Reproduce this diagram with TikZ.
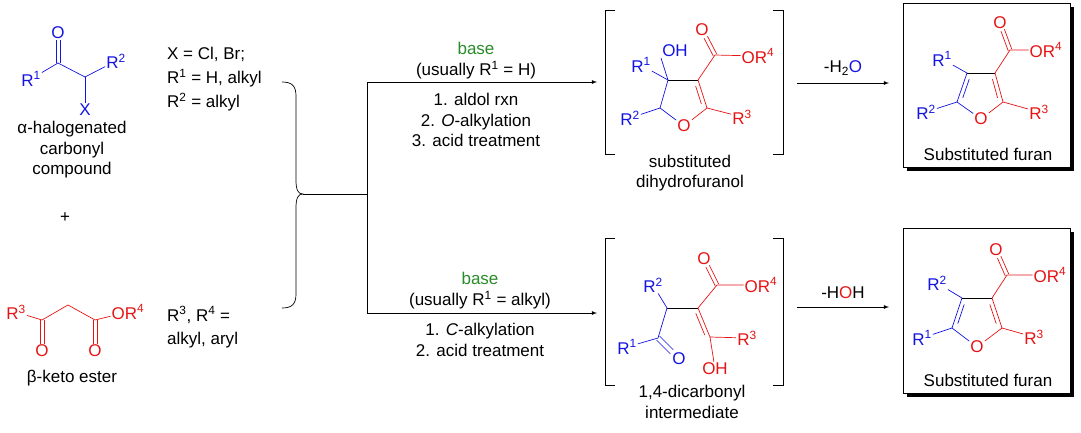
\documentclass[tikz,border=0pt]{standalone}
\usepackage{fontspec}
\setmainfont{Liberation Sans}
\usetikzlibrary{calc}
\definecolor{chemblue}{RGB}{20,20,225}
\definecolor{chemred}{RGB}{230,20,20}
\definecolor{basegreen}{RGB}{40,140,40}
\newcommand{\rs}[1]{\textsuperscript{#1}}
\tikzset{
  atom/.style={inner sep=1pt, font=\fontsize{17}{19}\selectfont},
  txt/.style={inner sep=0pt, font=\fontsize{17}{20.5}\selectfont},
  bond/.style={line width=0.7pt},
  rxn/.style={-latex, line width=0.8pt},
  dbl/.style={transform canvas={shift={#1}}}
}
\begin{document}
\begin{tikzpicture}[x=1pt,y=-1pt]
\useasboundingbox (0,0) rectangle (1081,432);
% alpha-halogenated carbonyl compound
\coordinate (a1) at (58,63);
\coordinate (a2) at (85,77);
\node[atom,text=chemblue] (aO) at (58,33) {O};
\node[atom,text=chemblue] (aR1) at (31,79) {R\rs{1}};
\node[atom,text=chemblue] (aR2) at (116,61) {R\rs{2}};
\node[atom,text=chemblue] (aX) at (85,110) {X};
\draw[bond,chemblue,dbl={(-2,0)}] (a1) -- (aO);
\draw[bond,chemblue,dbl={(2,0)}] (a1) -- (aO);
\draw[bond,chemblue] (aR1) -- (a1) -- (a2) -- (aR2);
\draw[bond,chemblue] (a2) -- (aX);
\node[txt,align=center] (aName) at (72,150) {α-halogenated\\carbonyl\\compound};
\node[txt] (plus) at (65,218) {+};
% beta-keto ester
\coordinate (b1) at (42,320);
\coordinate (b2) at (68,305);
\coordinate (b3) at (95,320);
\node[atom,text=chemred] (bR3) at (16,312) {R\rs{3}};
\node[atom,text=chemred] (bO1) at (42,351) {O};
\node[atom,text=chemred] (bO2) at (95,351) {O};
\node[atom,text=chemred] (bOR4) at (128,312) {OR\rs{4}};
\draw[bond,chemred] (bR3) -- (b1) -- (b2) -- (b3) -- (bOR4);
\foreach \s in {-2,2} {
  \draw[bond,chemred,dbl={(\s,0)}] (b1) -- (bO1);
  \draw[bond,chemred,dbl={(\s,0)}] (b3) -- (bO2);
}
\node[txt] (bName) at (72,378) {β-keto ester};
% substituent definitions
\node[txt,anchor=west] (defX) at (167,54) {X = Cl, Br;};
\node[txt,anchor=west] (defR1) at (167,78) {R\rs{1} = H, alkyl};
\node[txt,anchor=west] (defR2) at (167,102) {R\rs{2} = alkyl};
\node[txt,anchor=west] (defR3) at (167,315) {R\rs{3}, R\rs{4} =};
\node[txt,anchor=west] (defR4) at (167,340) {alkyl, aryl};
% brace and branching
\coordinate (brTop) at (282,82);
\coordinate (brBot) at (282,308);
\coordinate (brTip) at (303,194);
\coordinate (fork) at (367,194);
\coordinate (forkT) at (367,82);
\coordinate (forkB) at (367,313);
\draw[line width=0.7pt] (brTop) .. controls (292,82) and (296,86) .. (296,96)
  -- (296,180) .. controls (296,190) and (298,194) .. (brTip)
  .. controls (298,194) and (296,198) .. (296,208)
  -- (296,294) .. controls (296,304) and (292,308) .. (brBot);
\draw[line width=0.8pt] (brTip) -- (fork);
\draw[line width=0.8pt] (forkT) -- (forkB);
\coordinate (endT) at (597,82);
\coordinate (endB) at (597,313);
\draw[rxn] (forkT) -- (endT);
\draw[rxn] (forkB) -- (endB);
\node[txt,text=basegreen] (baseT) at (476,48) {base};
\node[txt] (condT) at (476,70) {(usually R\rs{1} = H)};
\node[txt,align=center] (stepsT) at (476,120) {1. aldol rxn\\2. \textit{O}-alkylation\\3. acid treatment};
\node[txt,text=basegreen] (baseB) at (480,278) {base};
\node[txt] (condB) at (480,300) {(usually R\rs{1} = alkyl)};
\node[txt,align=center] (stepsB) at (480,340) {1. \textit{C}-alkylation\\2. acid treatment};
% dihydrofuranol
\draw[line width=0.7pt] (615,10) -| (605,154) -- (615,154);
\draw[line width=0.7pt] (773,10) -| (783,154) -- (773,154);
\coordinate (d3) at (668,80);
\coordinate (d4) at (698,80);
\coordinate (d5) at (707,108);
\coordinate (d2) at (660,108);
\coordinate (dC) at (715,55);
\node[atom,text=chemred] (dO) at (684,126) {O};
\node[atom,text=chemblue] (dOH) at (675,51) {OH};
\node[atom,text=chemblue] (dR1) at (641,65) {R\rs{1}};
\node[atom,text=chemblue] (dR2) at (630,118) {R\rs{2}};
\node[atom,text=chemred] (dR3) at (742,117) {R\rs{3}};
\node[atom,text=chemred] (dOc) at (702,30) {O};
\node[atom,text=chemred] (dOR4) at (758,56) {OR\rs{4}};
\draw[bond] (d3) -- (d4);
\draw[bond,chemblue] (dR1) -- (d3) -- (d2) -- (dO);
\draw[bond,chemblue] (d3) -- (dOH.south west);
\draw[bond,chemblue] (dR2) -- (d2);
\draw[bond,chemred] (d4) -- (d5) -- (dO);
\draw[bond,chemred] ($(d4)!.18!(d5)+(-4,1)$) -- ($(d5)!.18!(d4)+(-4,1)$);
\draw[bond,chemred] (d5) -- (dR3);
\draw[bond,chemred] (d4) -- (dC) -- (dOR4);
\draw[bond,chemred,dbl={(-1.7,1)}] (dC) -- (dOc);
\draw[bond,chemred,dbl={(1.7,-1)}] (dC) -- (dOc);
\node[txt,align=center] (dName) at (690,173) {substituted\\dihydrofuranol};
% dehydration, top
\coordinate (hT1) at (797,83);
\coordinate (hT2) at (889,83);
\draw[rxn] (hT1) -- (hT2);
\node[txt] (h2o) at (843,68) {-H\textsubscript{2}\textcolor{chemblue}{O}};
% furan, top
\fill (907,7) rectangle (1074,171);
\draw[fill=white,line width=0.7pt] (903,3) rectangle (1070,167);
\coordinate (f3) at (967,73);
\coordinate (f4) at (995,73);
\coordinate (f5) at (1003,102);
\coordinate (f2) at (957,102);
\coordinate (fC) at (1010,50);
\node[atom,text=chemred] (fO) at (981,119) {O};
\node[atom,text=chemblue] (fR1) at (942,59) {R\rs{1}};
\node[atom,text=chemblue] (fR2) at (926,112) {R\rs{2}};
\node[atom,text=chemred] (fR3) at (1039,112) {R\rs{3}};
\node[atom,text=chemred] (fOc) at (1000,23) {O};
\node[atom,text=chemred] (fOR4) at (1046,50) {OR\rs{4}};
\draw[bond] (f3) -- (f4);
\draw[bond,chemblue] (fR1) -- (f3) -- (f2) -- (fO);
\draw[bond,chemblue] ($(f3)!.18!(f2)+(4,1)$) -- ($(f2)!.18!(f3)+(4,1)$);
\draw[bond,chemblue] (fR2) -- (f2);
\draw[bond,chemred] (f4) -- (f5) -- (fO);
\draw[bond,chemred] ($(f4)!.18!(f5)+(-4,1)$) -- ($(f5)!.18!(f4)+(-4,1)$);
\draw[bond,chemred] (f5) -- (fR3);
\draw[bond,chemred] (f4) -- (fC) -- (fOR4);
\draw[bond,chemred,dbl={(-1.7,1)}] (fC) -- (fOc);
\draw[bond,chemred,dbl={(1.7,-1)}] (fC) -- (fOc);
\node[txt] (fName) at (988,154) {Substituted furan};
% 1,4-dicarbonyl intermediate
\draw[line width=0.7pt] (615,238) -| (605,385) -- (615,385);
\draw[line width=0.7pt] (773,238) -| (783,385) -- (773,385);
\coordinate (i1) at (667,308);
\coordinate (i2) at (698,308);
\coordinate (iC) at (717,285);
\coordinate (i3) at (710,337);
\coordinate (iK) at (658,338);
\node[atom,text=chemblue] (iR2) at (653,285) {R\rs{2}};
\node[atom,text=chemred] (iOc) at (704,259) {O};
\node[atom,text=chemred] (iOR4) at (761,285) {OR\rs{4}};
\node[atom,text=chemred] (iR3) at (747,338) {R\rs{3}};
\node[atom,text=chemred] (iOH) at (715,369) {OH};
\node[atom,text=chemblue] (iR1) at (627,347) {R\rs{1}};
\node[atom,text=chemblue] (iO) at (679,359) {O};
\draw[bond] (i1) -- (i2);
\draw[bond,chemblue] (iR2) -- (i1) -- (iK) -- (iR1);
\draw[bond,chemblue,dbl={(1.5,-2)}] (iK) -- (iO);
\draw[bond,chemblue,dbl={(-1.5,2)}] (iK) -- (iO);
\draw[bond,chemred] (i2) -- (iC) -- (iOR4);
\draw[bond,chemred,dbl={(-1.7,1)}] (iC) -- (iOc);
\draw[bond,chemred,dbl={(1.7,-1)}] (iC) -- (iOc);
\draw[bond,chemred] (i2) -- (i3) -- (iR3);
\draw[bond,chemred] ($(i2)!.15!(i3)+(-4,1)$) -- ($(i3)!.1!(i2)+(-4,1)$);
\draw[bond,chemred] (i3) -- (iOH);
\node[txt,align=center] (iName) at (692,402) {1,4-dicarbonyl\\intermediate};
% dehydration, bottom
\coordinate (hB1) at (797,307);
\coordinate (hB2) at (889,307);
\draw[rxn] (hB1) -- (hB2);
\node[txt] (hoh) at (843,293) {-H\textcolor{chemred}{O}H};
% furan, bottom
\fill (907,232) rectangle (1074,397);
\draw[fill=white,line width=0.7pt] (903,228) rectangle (1070,393);
\coordinate (g3) at (962,298);
\coordinate (g4) at (992,298);
\coordinate (g5) at (1002,328);
\coordinate (g2) at (952,328);
\coordinate (gC) at (1007,275);
\node[atom,text=chemred] (gO) at (977,347) {O};
\node[atom,text=chemblue] (gR2) at (937,283) {R\rs{2}};
\node[atom,text=chemblue] (gR1) at (922,338) {R\rs{1}};
\node[atom,text=chemred] (gR3) at (1034,337) {R\rs{3}};
\node[atom,text=chemred] (gOc) at (996,250) {O};
\node[atom,text=chemred] (gOR4) at (1050,275) {OR\rs{4}};
\draw[bond] (g3) -- (g4);
\draw[bond,chemblue] (gR2) -- (g3) -- (g2) -- (gO);
\draw[bond,chemblue] ($(g3)!.18!(g2)+(4,1)$) -- ($(g2)!.18!(g3)+(4,1)$);
\draw[bond,chemblue] (gR1) -- (g2);
\draw[bond,chemred] (g4) -- (g5) -- (gO);
\draw[bond,chemred] ($(g4)!.18!(g5)+(-4,1)$) -- ($(g5)!.18!(g4)+(-4,1)$);
\draw[bond,chemred] (g5) -- (gR3);
\draw[bond,chemred] (g4) -- (gC) -- (gOR4);
\draw[bond,chemred,dbl={(-1.7,1)}] (gC) -- (gOc);
\draw[bond,chemred,dbl={(1.7,-1)}] (gC) -- (gOc);
\node[txt] (gName) at (988,380) {Substituted furan};
\end{tikzpicture}
\end{document}
